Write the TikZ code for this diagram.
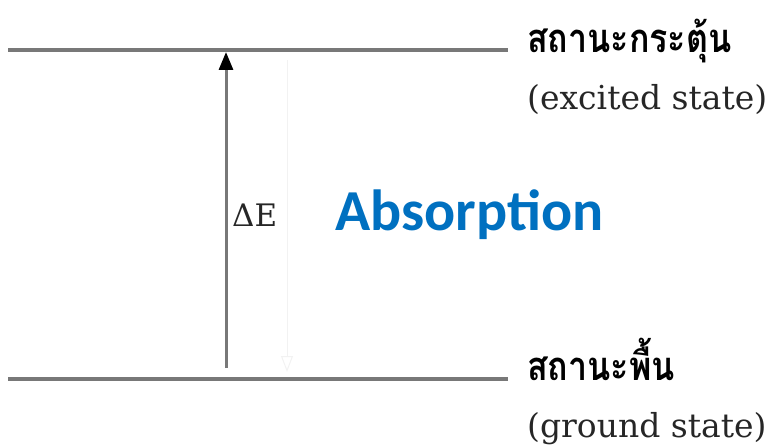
\documentclass[tikz,border=0pt]{standalone}
\usepackage{fontspec}
\newfontfamily\thaifont[Script=Thai, FakeStretch=0.85]{Loma}
\newfontfamily\calfont{Carlito}
\newfontfamily\serffont{DejaVu Serif}
\usetikzlibrary{arrows.meta}

\definecolor{levelgray}{RGB}{120,120,120}
\definecolor{absblue}{RGB}{0,112,192}

\begin{document}
\begin{tikzpicture}[x=1pt, y=-1pt,
  level/.style={draw=levelgray, line width=3.5pt},
  thai/.style={anchor=base west, inner sep=0pt, font=\thaifont\bfseries\fontsize{40}{40}\selectfont},
  eng/.style={anchor=base west, inner sep=0pt, text=black!85, font=\serffont\fontsize{33}{33}\selectfont},
  uparr/.style={draw=levelgray, line width=3pt, -{Triangle[length=18pt, width=14pt, color=black]}},
  ghost/.style={draw=black!5, line width=1pt, -{Triangle[open, length=16pt, width=12pt]}}]
\useasboundingbox (0,0) rectangle (776,446);
% energy levels
\coordinate (exL) at (8,50);
\coordinate (exR) at (508,50);
\coordinate (gdL) at (8,379);
\coordinate (gdR) at (508,379);
\draw[level] (exL) -- (exR);
\draw[level] (gdL) -- (gdR);
% transition
\coordinate (up0) at (226,368);
\coordinate (up1) at (226,52);
\draw[uparr] (up0) -- (up1);
\coordinate (dn0) at (287,60);
\coordinate (dn1) at (287,372);
\draw[ghost] (dn0) -- (dn1);
\node[anchor=base west, inner sep=0pt, text=black!85, font=\serffont\fontsize{31}{31}\selectfont] (dE) at (232,227) {ΔE};
\node[anchor=base west, inner sep=0pt, text=absblue, font=\calfont\bfseries\fontsize{58}{58}\selectfont] (abs) at (335,231) {Absorption};
% labels
\node[thai] (exTh) at (527,53) {สถานะกระตุ้น};
\node[eng] (exEn) at (527,110) {(excited state)};
\node[thai] (gdTh) at (527,380) {สถานะพื้น};
\node[eng] (gdEn) at (527,437) {(ground state)};
\end{tikzpicture}
\end{document}
